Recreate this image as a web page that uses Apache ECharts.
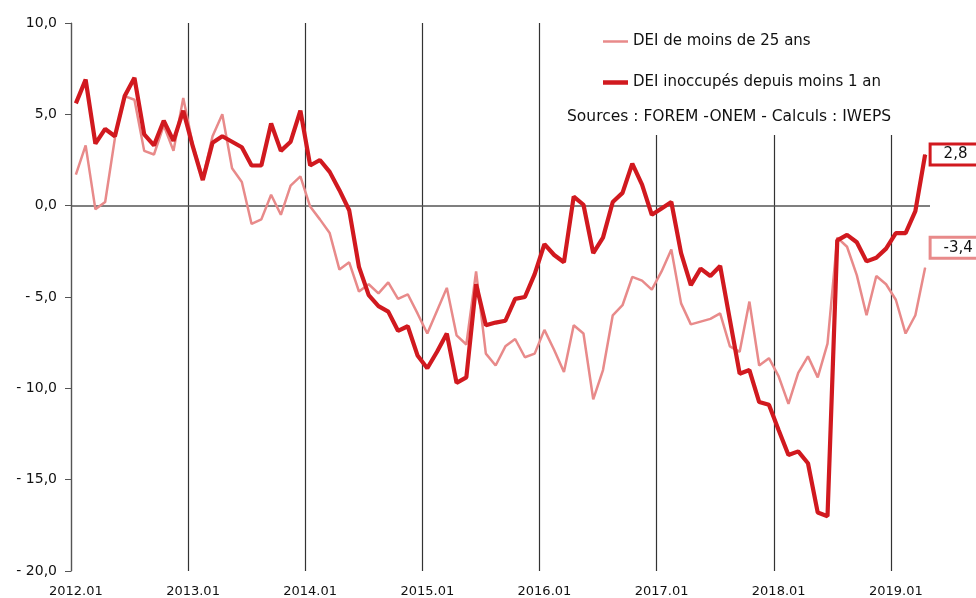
<!DOCTYPE html>
<html>
<head>
<meta charset="utf-8">
<script src="https://cdn.jsdelivr.net/npm/echarts@6/dist/echarts.min.js"></script>
<style>
html, body { margin: 0; padding: 0; background: #fff; }
#main { width: 976px; height: 598px; }
</style>
</head>
<body>
<div id="main"></div>
<script>
var dom = document.getElementById("main");
var myChart = echarts.init(dom);

// mois de 2012.01 a 2019.04
var categories = [];
for (var y = 2012; y <= 2019; y++) {
    for (var m = 1; m <= 12; m++) {
        if (y === 2019 && m > 4) break;
        categories.push(y + '.' + (m < 10 ? '0' + m : m));
    }
}

var moins1an = [
    5.6, 6.9, 3.4, 4.2, 3.8, 6.0, 7.0, 3.9, 3.3, 4.65, 3.55, 5.2,
    3.2, 1.4, 3.45, 3.8, 3.5, 3.2, 2.2, 2.2, 4.5, 3.0, 3.5, 5.2,
    2.2, 2.5, 1.85, 0.85, -0.25, -3.35, -4.9, -5.5, -5.8, -6.85, -6.6, -8.2,
    -8.9, -8.0, -7.0, -9.7, -9.4, -4.3, -6.55, -6.4, -6.3, -5.1, -5.0, -3.75,
    -2.1, -2.7, -3.1, 0.5, 0.05, -2.6, -1.75, 0.2, 0.7, 2.3, 1.15, -0.5,
    -0.15, 0.2, -2.6, -4.35, -3.45, -3.85, -3.3, -6.25, -9.2, -9.0, -10.75, -10.9,
    -12.3, -13.65, -13.45, -14.1, -16.8, -17.0, -1.9, -1.6, -2.0, -3.05, -2.85, -2.35,
    -1.5, -1.5, -0.3, 2.8
];

var moins25ans = [
    1.7, 3.3, -0.2, 0.2, 3.7, 6.0, 5.8, 3.0, 2.8, 4.4, 3.0, 5.9,
    3.3, 1.5, 3.8, 5.0, 2.05, 1.3, -1.0, -0.75, 0.6, -0.5, 1.1, 1.6,
    -0.05, -0.75, -1.5, -3.5, -3.1, -4.7, -4.3, -4.8, -4.2, -5.1, -4.85, -5.9,
    -7.0, -5.75, -4.5, -7.1, -7.6, -3.6, -8.1, -8.75, -7.7, -7.3, -8.3, -8.1,
    -6.8, -7.9, -9.1, -6.55, -7.0, -10.6, -9.0, -6.0, -5.45, -3.9, -4.1, -4.6,
    -3.6, -2.4, -5.35, -6.5, -6.35, -6.2, -5.9, -7.7, -8.0, -5.25, -8.75, -8.35,
    -9.35, -10.85, -9.15, -8.25, -9.4, -7.55, -1.75, -2.25, -3.8, -6.0, -3.85, -4.3,
    -5.15, -7.0, -6.0, -3.4
];

var colors = ['#e88a8a', '#d1191f'];
var font = 'DejaVu Sans';

function fr(v) {
    return v.toFixed(1).replace('.', ',');
}

// seule la derniere valeur porte une etiquette encadree
function withLastLabel(arr, color) {
    return arr.map(function (v, i) {
        if (i < arr.length - 1) return v;
        return {
            value: v,
            symbolSize: 1,
            label: {
                show: true,
                position: 'right',
                distance: 6,
                formatter: function (p) { return fr(p.value); },
                color: '#111',
                fontFamily: font,
                fontSize: 15,
                backgroundColor: '#fff',
                borderColor: color,
                borderWidth: 3,
                padding: [2, 12, 1, 12]
            }
        };
    });
}

function lineSeries(name, arr, color, width, dy, z) {
    return {
        name: name,
        type: 'line',
        symbol: 'circle',
        symbolSize: 0,
        showSymbol: true,
        showAllSymbol: true,
        z: z,
        lineStyle: { color: color, width: width },
        itemStyle: { color: color },
        labelLayout: { hideOverlap: false, dy: dy },
        data: withLastLabel(arr, color)
    };
}

var s25 = lineSeries('DEI de moins de 25 ans', moins25ans, colors[0], 2.5, -20, 3);
var s1an = lineSeries('DEI inoccupés depuis moins 1 an', moins1an, colors[1], 4.2, 0, 4);
s1an.markLine = {
    silent: true,
    symbol: 'none',
    z: 2,
    label: { show: false },
    lineStyle: { color: '#555', type: 'solid', width: 1.5 },
    data: [{ yAxis: 0 }]
};

option = {
    animation: false,
    color: colors,
    grid: {
        left: 71,
        right: 46,
        top: 23,
        bottom: 27,
        outerBoundsMode: 'none'
    },
    legend: {
        orient: 'vertical',
        left: 598,
        top: 29,
        itemWidth: 25,
        itemHeight: 14,
        itemGap: 26,
        symbolKeepAspect: true,
        z: 10,
        textStyle: {
            fontFamily: font,
            fontSize: 15,
            color: '#111'
        },
        data: [
            { name: 'DEI de moins de 25 ans', icon: 'path://M0,0H25V2.5H0Z' },
            { name: 'DEI inoccupés depuis moins 1 an', icon: 'path://M0,0H25V4.5H0Z' }
        ]
    },
    graphic: [
        {
            type: 'rect',
            z: 1,
            silent: true,
            shape: { x: 556, y: 20, width: 356, height: 115 },
            style: { fill: '#fff' }
        },
        {
            type: 'text',
            z: 10,
            left: 567,
            top: 109,
            style: {
                text: 'Sources : FOREM -ONEM - Calculs : IWEPS',
                fontFamily: font,
                fontSize: 15.5,
                fill: '#111'
            }
        }
    ],
    xAxis: {
        type: 'category',
        boundaryGap: true,
        data: categories,
        axisLine: { show: false, onZero: false },
        axisTick: { show: false },
        axisLabel: {
            interval: 11,
            margin: 14,
            color: '#111',
            fontFamily: font,
            fontSize: 13
        },
        splitLine: {
            show: true,
            interval: 11,
            showMaxLine: false,
            lineStyle: { color: '#333', width: 1.2 }
        }
    },
    yAxis: {
        type: 'value',
        min: -20,
        max: 10,
        interval: 5,
        axisLine: { show: true, lineStyle: { color: '#555', width: 1.2 } },
        axisTick: { show: true, length: 6, lineStyle: { color: '#555' } },
        axisLabel: {
            margin: 14,
            color: '#111',
            fontFamily: font,
            fontSize: 14,
            formatter: function (v) {
                return v < 0 ? '- ' + fr(-v) : fr(v);
            }
        },
        splitLine: { show: false }
    },
    series: [s25, s1an]
};

if (option && typeof option === "object") {
    myChart.setOption(option, true);
}
window.addEventListener('resize', function () {
    myChart.resize();
});
</script>
</body>
</html>
